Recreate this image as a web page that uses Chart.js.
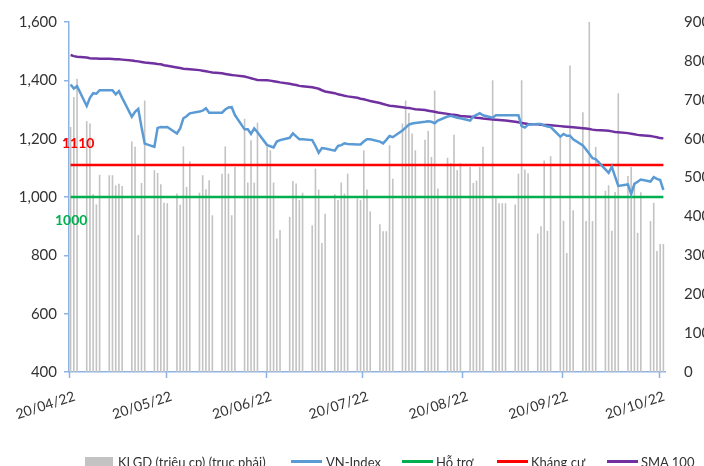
<!DOCTYPE html>
<html>
<head>
<meta charset="utf-8">
<script src="https://cdn.jsdelivr.net/npm/chart.js@4.4.0/dist/chart.umd.min.js"></script>
<style>
  html, body { margin: 0; padding: 0; background: #fff; overflow: hidden; }
  #wrap { position: relative; width: 704px; height: 466px; overflow: hidden; }
  #legend { position: absolute; left: 0; top: 0; width: 704px; height: 466px; pointer-events: none; }
  .lg-item { position: absolute; top: 455px; font: 13px Lato, sans-serif; color: #333; white-space: nowrap; line-height: 14px; }
  .lg-mark { position: absolute; }
</style>
</head>
<body>
<div id="wrap">
  <canvas id="myChart" width="704" height="466"></canvas>
  <div id="legend"></div>
</div>
<script>
// Date range (calendar days, weekends left empty)
const startDate = new Date(2022, 3, 20);
const endDate = new Date(2022, 9, 21);

// Tick labels shown on the x axis
const tickLabels = ["20/04/22", "20/05/22", "20/06/22", "20/07/22", "20/08/22", "20/09/22", "20/10/22"];

// Volume (million shares) - one value per weekday
const volume = [
  630, 707, 754,
  645, 639, 457, 431, 507,
  506, 506, 480, 484, 478,
  593, 579, 352, 486, 698,
  519, 512, 483, 435, 434,
  459, 430, 580, 476, 542,
  461, 506, 470, 493, 403,
  510, 580, 510, 403, 527,
  651, 487, 596, 487, 641,
  579, 570, 487, 343, 365,
  399, 491, 485, 442, 461,
  377, 523, 469, 332, 407,
  457, 442, 487, 459, 510,
  446, 442, 570, 469, 413,
  380, 362, 362, 583, 497,
  639, 698, 666, 613, 570,
  597, 620, 553, 724, 472,
  551, 537, 610, 519, 537,
  527, 486, 492, 527, 579,
  750, 447, 434, 434, 434,
  431, 510, 750, 521, 511,
  356, 375, 544, 363, 555,
  604, 389, 306, 788, 416,
  668, 388, 900, 388, 579,
  466, 480, 363, 463, 717,
  504, 527, 487, 358, 462,
  388, 435, 311, 329, 329
];

// VN-Index close - one value per weekday
const vnIndex = [
  1386, 1372, 1380,
  1312, 1340, 1356, 1354, 1366,
  1366, 1366, 1352, 1363, 1340,
  1275, 1292, 1302, 1240, 1183,
  1172, 1237, 1240, 1239, 1240,
  1218, 1235, 1270, 1277, 1287,
  1293, 1296, 1304, 1289, 1289,
  1289, 1300, 1307, 1308, 1281,
  1232, 1232, 1216, 1235, 1222,
  1178, 1174, 1170, 1190, 1195,
  1203, 1218, 1208, 1198, 1198,
  1195, 1175, 1152, 1168, 1166,
  1159, 1175, 1178, 1184, 1182,
  1180, 1180, 1190, 1198, 1198,
  1190, 1184, 1196, 1209, 1205,
  1228, 1238, 1248, 1252, 1254,
  1258, 1260, 1258, 1253, 1262,
  1276, 1278, 1275, 1272, 1270,
  1262, 1276, 1282, 1287, 1280,
  1272, 1280, 1280, 1280, 1280,
  1280, 1280, 1243, 1238, 1248,
  1250, 1250, 1245, 1242, 1240,
  1207, 1216, 1210, 1210, 1198,
  1177, 1163, 1148, 1133, 1130,
  1095, 1083, 1104, 1070, 1038,
  1043, 1010, 1045, 1052, 1060,
  1053, 1068, 1062, 1058, 1024
];

// SMA 100 - one value per weekday
const sma100 = [
  1487, 1483, 1481,
  1478, 1476, 1475, 1475, 1474,
  1474, 1473, 1472, 1472, 1471,
  1468, 1466, 1465, 1463, 1461,
  1458, 1456, 1455, 1452, 1450,
  1444, 1442, 1440, 1439, 1438,
  1435, 1433, 1431, 1429, 1427,
  1424, 1422, 1420, 1418, 1417,
  1413, 1410, 1407, 1404, 1401,
  1400, 1399, 1397, 1395, 1393,
  1388, 1386, 1384, 1381, 1380,
  1376, 1374, 1371, 1366, 1362,
  1356, 1352, 1350, 1347, 1345,
  1340, 1337, 1335, 1332, 1329,
  1322, 1319, 1316, 1313, 1312,
  1308, 1306, 1305, 1303, 1301,
  1298, 1296, 1294, 1292, 1290,
  1285, 1283, 1282, 1280, 1278,
  1275, 1274, 1272, 1271, 1269,
  1266, 1265, 1264, 1263, 1262,
  1258, 1256, 1254, 1252, 1250,
  1249, 1248, 1247, 1247, 1246,
  1243, 1242, 1241, 1240, 1239,
  1236, 1235, 1233, 1231, 1230,
  1228, 1227, 1225, 1223, 1222,
  1219, 1217, 1215, 1213, 1212,
  1209, 1207, 1205, 1202, 1201
];

// Support / resistance levels
const supportLevel = 1000;
const resistanceLevel = 1110;

// Series names
const seriesNames = ["KLGD (triệu cp) (trục phải)", "VN-Index", "Hỗ trợ", "Kháng cự", "SMA 100"];

// Colors
const colBar = "#c3c3c3";
const colIndex = "#5b9bd5";
const colSupport = "#00b050";
const colResist = "#ff0000";
const colSma = "#7030a0";
const colAxis = "#8db3e2";

function fmt(d) {
  const dd = String(d.getDate()).padStart(2, "0");
  const mm = String(d.getMonth() + 1).padStart(2, "0");
  const yy = String(d.getFullYear()).slice(2);
  return dd + "/" + mm + "/" + yy;
}

// Build calendar labels and spread weekday values over them
const labels = [];
const volData = [];
const idxData = [];
const smaData = [];
let k = 0;
for (let d = new Date(startDate); d <= endDate; d.setDate(d.getDate() + 1)) {
  labels.push(fmt(d));
  const wd = d.getDay();
  if (wd === 0 || wd === 6) {
    volData.push(null);
    idxData.push(null);
    smaData.push(null);
  } else {
    volData.push(volume[k]);
    idxData.push(vnIndex[k]);
    smaData.push(sma100[k]);
    k++;
  }
}
const supportData = labels.map(() => supportLevel);
const resistData = labels.map(() => resistanceLevel);

// Level labels + x tick marks at the labelled dates
const extras = {
  id: "extras",
  afterDatasetsDraw(chart) {
    const c = chart.ctx;
    const y = chart.scales.y;
    const x = chart.scales.x;
    const area = chart.chartArea;
    c.save();
    c.font = "bold 14px Lato, sans-serif";
    c.textBaseline = "middle";
    c.textAlign = "left";
    c.fillStyle = colResist;
    c.fillText(String(resistanceLevel), area.left - 7, y.getPixelForValue(resistanceLevel) - 21);
    c.fillStyle = colSupport;
    c.fillText(String(supportLevel), area.left - 14, y.getPixelForValue(supportLevel) + 23);

    // tick marks on the date axis
    const half = (area.right - area.left) / labels.length / 2;
    c.strokeStyle = colAxis;
    c.lineWidth = 1.5;
    labels.forEach((lab, i) => {
      if (!tickLabels.includes(lab)) return;
      const px = Math.round(x.getPixelForValue(i) - half) + 0.5;
      c.beginPath();
      c.moveTo(px, area.bottom);
      c.lineTo(px, area.bottom + 6);
      c.stroke();
    });
    c.restore();
  }
};

const ctx = document.getElementById("myChart").getContext("2d");

const data = {
  labels: labels,
  datasets: [
    {
      type: "bar",
      label: seriesNames[0],
      data: volData,
      yAxisID: "y1",
      backgroundColor: colBar,
      barPercentage: 0.5,
      categoryPercentage: 1,
      order: 10,
    },
    {
      type: "line",
      label: seriesNames[1],
      data: idxData,
      yAxisID: "y",
      borderColor: colIndex,
      borderWidth: 2.5,
      pointRadius: 0,
      spanGaps: true,
      tension: 0,
      order: 1,
    },
    {
      type: "line",
      label: seriesNames[2],
      data: supportData,
      yAxisID: "y",
      borderColor: colSupport,
      borderWidth: 2.5,
      pointRadius: 0,
      order: 3,
    },
    {
      type: "line",
      label: seriesNames[3],
      data: resistData,
      yAxisID: "y",
      borderColor: colResist,
      borderWidth: 2.5,
      pointRadius: 0,
      order: 3,
    },
    {
      type: "line",
      label: seriesNames[4],
      data: smaData,
      yAxisID: "y",
      borderColor: colSma,
      borderWidth: 2.5,
      pointRadius: 0,
      spanGaps: true,
      order: 2,
    },
  ],
};

const config = {
  type: "bar",
  data: data,
  plugins: [extras],
  options: {
    responsive: false,
    animation: false,
    layout: { padding: { top: 22, left: 0, right: 0, bottom: 0 } },
    plugins: {
      legend: { display: false },
      tooltip: { enabled: false },
    },
    scales: {
      x: {
        type: "category",
        offset: true,
        grid: { display: false },
        border: { color: colAxis, width: 1.5 },
        ticks: {
          autoSkip: false,
          minRotation: 18,
          maxRotation: 18,
          padding: 8,
          labelOffset: 4,
          color: "#333",
          font: { family: "Lato", size: 14 },
          callback: function (value) {
            const lab = this.getLabelForValue(value);
            return tickLabels.includes(lab) ? lab : null;
          },
        },
        afterFit: (scale) => { scale.height = 94; },
      },
      y: {
        position: "left",
        min: 400,
        max: 1600,
        grid: {
          drawOnChartArea: false,
          drawTicks: true,
          tickLength: 5,
          color: colAxis,
          lineWidth: 1.5,
        },
        border: { color: colAxis, width: 1.5 },
        ticks: {
          stepSize: 200,
          padding: 7,
          color: "#333",
          font: { family: "Lato", size: 15 },
          callback: (v) => v.toLocaleString("en-US"),
        },
        afterFit: (scale) => { scale.width = 69; },
      },
      y1: {
        position: "right",
        min: 0,
        max: 900,
        grid: { display: false },
        border: { display: false },
        ticks: {
          stepSize: 100,
          padding: 11,
          color: "#333",
          font: { family: "Lato", size: 15 },
        },
        afterFit: (scale) => { scale.width = 39; },
      },
    },
  },
};

const myChart = new Chart(ctx, config);

// Legend row (bottom, partly cut by the frame as in the source)
const legendItems = [
  { text: seriesNames[0], color: colBar, kind: "box", mx: 85, tx: 118 },
  { text: seriesNames[1], color: colIndex, kind: "line", mx: 291, tx: 326 },
  { text: seriesNames[2], color: colSupport, kind: "line", mx: 402, tx: 436 },
  { text: seriesNames[3], color: colResist, kind: "line", mx: 497, tx: 531 },
  { text: seriesNames[4], color: colSma, kind: "line", mx: 607, tx: 641 },
];
const legendEl = document.getElementById("legend");
legendItems.forEach((it) => {
  const m = document.createElement("div");
  m.className = "lg-mark";
  m.style.left = it.mx + "px";
  if (it.kind === "box") {
    m.style.top = "457px";
    m.style.width = "28px";
    m.style.height = "10px";
  } else {
    m.style.top = "460px";
    m.style.width = "31px";
    m.style.height = "2.5px";
  }
  m.style.background = it.color;
  legendEl.appendChild(m);
  const t = document.createElement("div");
  t.className = "lg-item";
  t.style.left = it.tx + "px";
  t.textContent = it.text;
  legendEl.appendChild(t);
});
</script>
</body>
</html>
